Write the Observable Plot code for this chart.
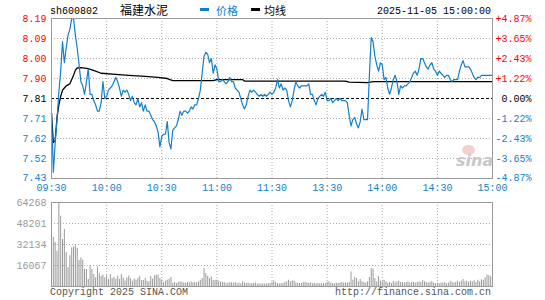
<!DOCTYPE html>
<html><head><meta charset="utf-8">
<script src="https://cdn.jsdelivr.net/npm/d3@7"></script>
<script src="https://cdn.jsdelivr.net/npm/@observablehq/plot@0.6"></script>
<style>
body{margin:0;background:#fff;}
#wrap{position:relative;width:545px;height:300px;overflow:hidden;font-family:"Liberation Mono","DejaVu Sans Mono",monospace;font-size:10px;}
.pane{position:absolute;left:0;}
.t{position:absolute;white-space:nowrap;line-height:1;}
</style></head><body><div id="wrap">
<div class="pane" id="up" style="top:0"></div>
<div class="pane" id="down" style="top:196px"></div>
<div class="t" style="left:50px;top:7px;color:#000">sh600802</div>
<div class="t" style="left:120px;top:4px;font-family:'Noto Sans CJK SC';font-size:12px;color:#000">福建水泥</div>
<div class="t" style="left:200px;top:8px;width:9px;height:3px;background:#127fc9"></div>
<div class="t" style="left:216px;top:5px;font-family:'Noto Sans CJK SC';font-size:11px;color:#127fc9">价格</div>
<div class="t" style="left:251px;top:8px;width:9px;height:3px;background:#000"></div>
<div class="t" style="left:264px;top:5px;font-family:'Noto Sans CJK SC';font-size:11px;color:#000">均线</div>
<div class="t" style="right:54px;top:7px;color:#000">2025-11-05 15:00:00</div>
<div class="t" style="left:50px;top:288px;color:#555">Copyright 2025 SINA.COM</div>
<div class="t" style="right:54px;top:288px;color:#555">http://finance.sina.com.cn</div>
<div class="t" style="left:462px;top:145px;width:13px;height:10px;border-radius:50%;background:#f6d0d0"></div>
<div class="t" style="left:456px;top:153px;font-family:'DejaVu Sans';font-style:italic;font-weight:bold;font-size:16px;color:#c8c8c8">sina</div>
</div>
<script>
const BLUE = "#127fc9";
const prevClose = 7.81;
const pctTicks = [4.87, 3.65, 2.43, 1.22, 0, -1.22, -2.43, -3.65, -4.87];
const pctLabels = ["+4.87%", "+3.65%", "+2.43%", "+1.22%", "0.00%", "-1.22%", "-2.43%", "-3.65%", "-4.87%"];
const priceLabels = ["8.19", "8.09", "8.00", "7.90", "7.81", "7.71", "7.62", "7.52", "7.43"];
const timeTicks = [0, 30, 60, 90, 120, 150, 180, 210, 240];
const timeLabels = ["09:30", "10:00", "10:30", "11:00", "11:30", "13:30", "14:00", "14:30", "15:00"];
const volTicks = [64268, 48201, 32134, 16067];
const volLabels = ["64268", "48201", "32134", "16067"];

// price per minute, 09:30 .. 15:00 (241 points)
const prices = [
7.74,7.46,7.60,7.71,7.84,7.94,8.08,7.98,8.05,8.11,
8.14,8.19,8.19,8.11,8.05,7.97,7.89,7.87,7.83,7.89,
7.95,7.83,7.83,7.80,7.78,7.75,7.75,7.79,7.89,7.81,
7.82,7.85,7.86,7.87,7.89,7.91,7.89,7.86,7.82,7.85,
7.84,7.85,7.83,7.80,7.82,7.79,7.78,7.81,7.77,7.79,
7.75,7.78,7.75,7.75,7.73,7.71,7.70,7.68,7.65,7.58,
7.63,7.64,7.64,7.70,7.60,7.57,7.66,7.67,7.68,7.71,
7.75,7.73,7.75,7.75,7.74,7.75,7.77,7.76,7.78,7.78,
7.81,7.85,7.93,8.01,8.03,8.02,7.98,8.00,7.93,7.97,
7.95,7.89,7.89,7.90,7.89,7.88,7.89,7.91,7.89,7.89,
7.86,7.85,7.84,7.81,7.78,7.76,7.78,7.82,7.85,7.84,
7.85,7.84,7.83,7.82,7.83,7.82,7.83,7.82,7.83,7.84,
7.83,7.84,7.86,7.90,7.86,7.88,7.85,7.86,7.85,7.80,
7.77,7.80,7.85,7.89,7.87,7.86,7.87,7.87,7.87,7.87,
7.88,7.83,7.83,7.80,7.78,7.81,7.82,7.83,7.82,7.84,
7.80,7.80,7.81,7.79,7.80,7.81,7.80,7.81,7.80,7.80,
7.80,7.79,7.73,7.68,7.71,7.72,7.69,7.67,7.70,7.76,
7.71,7.71,7.71,7.92,8.10,8.08,8.01,7.97,7.94,7.98,
7.97,7.90,7.91,7.86,7.83,7.86,7.90,7.92,7.89,7.83,
7.87,7.86,7.87,7.87,7.88,7.89,7.91,7.93,7.94,7.92,
7.95,8.00,8.00,7.98,7.96,7.95,7.97,7.98,7.95,7.94,
7.92,7.94,7.93,7.92,7.91,7.92,7.92,7.90,7.89,7.90,
7.90,7.90,7.94,7.97,7.99,7.96,7.96,7.96,7.95,7.93,
7.91,7.90,7.91,7.91,7.92,7.92,7.92,7.92,7.92,7.92,7.92
];

// average price line, read at these minutes
const avgMinutes = [0,1,2,3,4,5,6,7,8,9,10,11,12,13,14,16,20,24,27,35,42,51,58,63,66,88,90,104,105,160,162,172,175,240];
const avgPrices = [7.74,7.60,7.61,7.72,7.78,7.82,7.85,7.86,7.87,7.875,7.88,7.90,7.92,7.945,7.955,7.957,7.952,7.94,7.93,7.925,7.92,7.915,7.91,7.905,7.895,7.895,7.90,7.90,7.893,7.893,7.888,7.885,7.89,7.89];

// volume per minute (241 points)
const volumes = [
22700,37500,33700,27000,64268,53800,36000,43600,26000,14500,
23500,29600,30300,31100,29100,19900,21900,20100,13000,13000,
5400,15800,13000,9200,6600,15000,9700,7900,8700,6600,
8200,5400,9200,6100,7100,5400,7900,5400,9200,6600,
4100,6600,7900,6100,4100,5600,4800,6100,7700,4600,
4600,6100,4100,3600,7700,5600,8200,8700,8700,6100,
5100,2800,4100,4800,5400,6900,2300,3100,2300,3100,
3600,3100,2800,2300,3100,2800,3600,2800,3100,2800,
3600,4800,6100,13800,9900,7900,6100,7100,4600,4600,
4800,4100,3300,3100,3100,2000,2600,2800,2800,2600,
3100,2000,2600,2000,3600,2600,2300,2600,2000,2300,
2300,2600,1800,2000,1800,2000,1800,1800,2300,2000,
3100,4300,3100,2000,2000,2300,2300,3100,3600,4800,
3600,4300,4100,2800,2300,2300,2300,3100,3100,2800,
2300,2800,2000,2300,1800,2300,2000,2000,2300,2000,
3100,3600,2600,2300,2000,2600,2300,2600,3100,2600,
2800,2600,3100,11200,4800,6900,6100,3600,5400,3600,
3100,2600,3600,6900,13800,13300,6100,3600,7700,4100,
3600,4800,3600,2600,3100,2300,3800,2800,3600,4100,
3100,3100,2600,3100,3600,2600,3300,3100,2600,3100,
3600,3100,4600,3600,3100,2600,3100,3600,2600,2000,
2600,2300,2600,2600,3100,2000,2600,4100,3100,2600,
3100,4100,3100,4100,5400,3600,4100,3100,4100,3600,
4300,3100,4800,3600,5100,4800,6600,8700,8200,7400,7400
];

const priceData = prices.map((p, i) => ({m: i, p}));
const avgData = avgMinutes.map((m, i) => ({m, p: avgPrices[i]}));
const volData = volumes.map((v, i) => ({m: i, v}));
const yTicks = pctTicks.map((pc, i) => ({v: prevClose * (1 + pc / 100), sign: Math.sign(pc), price: priceLabels[i], pct: pctLabels[i]}));
const colorOf = s => s > 0 ? "#ff0000" : s < 0 ? BLUE : "#000000";
const FONT = "'Liberation Mono','DejaVu Sans Mono',monospace";
const innerTimes = timeTicks.slice(1, -1);
const lastIdx = yTicks.length - 1;

const upper = Plot.plot({
  width: 545, height: 198,
  marginLeft: 51, marginRight: 53, marginTop: 18, marginBottom: 20,
  style: {background: "transparent", fontFamily: FONT, fontSize: "10px", overflow: "visible"},
  x: {domain: [0, 240], axis: null},
  y: {domain: [prevClose * (1 - 0.0487), prevClose * (1 + 0.0487)], axis: null},
  marks: [
    Plot.ruleY(yTicks.slice(1, -1).filter(d => d.sign !== 0), {y: "v", stroke: "#aaa", strokeDasharray: "1,2"}),
    Plot.ruleX(innerTimes, {stroke: "#aaa", strokeDasharray: "1,2"}),
    Plot.ruleY([prevClose], {stroke: "#000", strokeDasharray: "3,2"}),
    Plot.line(avgData, {x: "m", y: "p", stroke: "#000", strokeWidth: 1.3}),
    Plot.line(priceData, {x: "m", y: "p", stroke: BLUE, strokeWidth: 1.2}),
    Plot.frame({stroke: "#999"}),
    Plot.text(yTicks.slice(0, lastIdx), {x: () => 0, y: "v", text: "price", fill: d => colorOf(d.sign), textAnchor: "end", dx: -5}),
    Plot.text(yTicks.slice(0, lastIdx), {x: () => 240, y: "v", text: "pct", fill: d => colorOf(d.sign), textAnchor: "end", dx: 39}),
    Plot.text(yTicks.slice(lastIdx), {x: () => 0, y: "v", text: "price", fill: d => colorOf(d.sign), textAnchor: "end", dx: -5, dy: -1}),
    Plot.text(yTicks.slice(lastIdx), {x: () => 240, y: "v", text: "pct", fill: d => colorOf(d.sign), textAnchor: "end", dx: 39, dy: -1}),
    Plot.text(timeTicks, {x: d => d, frameAnchor: "bottom", text: (d, i) => timeLabels[i], fill: BLUE, dy: 12})
  ]
});
document.getElementById("up").appendChild(upper);

const lower = Plot.plot({
  width: 545, height: 104,
  marginLeft: 51, marginRight: 53, marginTop: 6, marginBottom: 14,
  style: {background: "transparent", fontFamily: FONT, fontSize: "10px", overflow: "visible"},
  x: {domain: [0, 240], axis: null},
  y: {domain: [0, 64268], axis: null},
  marks: [
    Plot.ruleY(volTicks.slice(1), {stroke: "#aaa", strokeDasharray: "1,2"}),
    Plot.ruleX(innerTimes, {stroke: "#aaa", strokeDasharray: "1,2"}),
    Plot.ruleX(volData, {x: "m", y1: () => 0, y2: "v", stroke: "#999", strokeWidth: 1}),
    Plot.frame({stroke: "#999"}),
    Plot.text(volTicks, {x: () => 0, y: d => d, text: (d, i) => volLabels[i], fill: "#999", textAnchor: "end", dx: -5})
  ]
});
document.getElementById("down").appendChild(lower);
</script>
</body></html>
